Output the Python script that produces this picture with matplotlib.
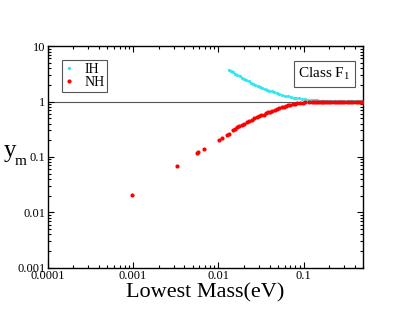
import numpy as np
import matplotlib
matplotlib.use('Agg')
import matplotlib.pyplot as plt
from matplotlib.ticker import FixedLocator, FixedFormatter, LogLocator, NullFormatter

plt.rcParams['font.family'] = ['Liberation Serif', 'DejaVu Serif']
plt.rcParams['mathtext.fontset'] = 'custom'
plt.rcParams['mathtext.rm'] = 'Liberation Serif'

# NH points (lowest mass in eV, y_m)
nh_mass = [0.00098, 0.00327, 0.00565, 0.0058, 0.00684, 0.0102, 0.0110, 0.0126, 0.0132,
           0.0148, 0.0157, 0.0165, 0.0175, 0.0189, 0.0200, 0.0217, 0.0230, 0.0248, 0.0265,
           0.0284, 0.030, 0.032, 0.034, 0.036, 0.038, 0.0407, 0.043, 0.046, 0.0487, 0.052,
           0.055, 0.0582, 0.062, 0.066, 0.0698, 0.075, 0.080, 0.0832, 0.090, 0.097, 0.105,
           0.115, 0.125, 0.133, 0.14, 0.148, 0.155, 0.163, 0.17, 0.18, 0.19, 0.20, 0.21,
           0.225, 0.24, 0.255, 0.27, 0.285, 0.30, 0.32, 0.34, 0.36, 0.38, 0.405, 0.43,
           0.455, 0.48, 0.50]
nh_y = [0.0203, 0.0697, 0.117, 0.121, 0.14, 0.206, 0.221, 0.25, 0.262,
        0.31, 0.325, 0.344, 0.36, 0.384, 0.40, 0.424, 0.445, 0.473, 0.50,
        0.522, 0.54, 0.56, 0.582, 0.61, 0.635, 0.659, 0.68, 0.71, 0.738, 0.765,
        0.785, 0.81, 0.83, 0.855, 0.88, 0.90, 0.92, 0.93, 0.945, 0.955, 0.965,
        0.972, 0.978, 0.981, 0.983, 0.985, 0.987, 0.988, 0.99, 0.991, 0.992, 0.993, 0.994,
        0.994, 0.995, 0.995, 0.996, 0.996, 0.997, 0.997, 0.998, 0.998, 0.998, 0.999, 0.999,
        0.999, 0.999, 0.999]

# IH points
ih_mass = [0.0135, 0.0142, 0.0150, 0.0158, 0.0167, 0.0178, 0.0189, 0.0200, 0.0213, 0.0226,
           0.0240, 0.0255, 0.0271, 0.029, 0.0308, 0.0325, 0.035, 0.037, 0.0388, 0.042, 0.045,
           0.0487, 0.052, 0.056, 0.061, 0.066, 0.071, 0.0764, 0.082, 0.088, 0.0955,
           0.105, 0.113, 0.122, 0.128, 0.135, 0.142, 0.15, 0.158, 0.165, 0.172, 0.18, 0.19,
           0.2, 0.21, 0.22, 0.235, 0.25, 0.265, 0.28, 0.30, 0.32, 0.34, 0.36, 0.38, 0.40,
           0.425, 0.45, 0.475, 0.50]
ih_y = [3.74, 3.55, 3.38, 3.17, 3.0, 2.85, 2.68, 2.55, 2.42, 2.30,
        2.19, 2.09, 2.0, 1.90, 1.82, 1.77, 1.68, 1.63, 1.58, 1.52, 1.46,
        1.42, 1.37, 1.32, 1.28, 1.24, 1.21, 1.18, 1.16, 1.14, 1.12,
        1.10, 1.08, 1.06, 1.055, 1.05, 1.045, 1.04, 1.038, 1.035, 1.032, 1.03, 1.028,
        1.025, 1.022, 1.02, 1.018, 1.015, 1.013, 1.012, 1.011, 1.01, 1.009, 1.008, 1.007, 1.006,
        1.006, 1.005, 1.005, 1.004]

xticks = [0.0001, 0.001, 0.01, 0.1]
xlabels = ['0.0001', '0.001', '0.01', '0.1']
yticks = [0.001, 0.01, 0.1, 1, 10]
ylabels = ['0.001', '0.01', '0.1', '1', '10']

fig = plt.figure(figsize=(4.09, 3.16), dpi=100)
ax = fig.add_axes([0.1166, 0.153, 0.7717, 0.701])

ax.axhline(1, color='#555555', lw=0.8, zorder=1)
ax.plot(ih_mass, ih_y, 'o', color='#33e6f0', ms=2.4, mew=0, label='IH', zorder=2)
ax.plot(nh_mass, nh_y, 'o', color='red', ms=3.0, mew=0, label='NH', zorder=3)

ax.set_xscale('log')
ax.set_yscale('log')
ax.set_xlim(0.0001, 0.5)
ax.set_ylim(0.001, 10)

ax.xaxis.set_major_locator(FixedLocator(xticks))
ax.xaxis.set_major_formatter(FixedFormatter(xlabels))
ax.yaxis.set_major_locator(FixedLocator(yticks))
ax.yaxis.set_major_formatter(FixedFormatter(ylabels))
ax.xaxis.set_minor_locator(LogLocator(base=10, subs=np.arange(2, 10)))
ax.yaxis.set_minor_locator(LogLocator(base=10, subs=np.arange(2, 10)))
ax.xaxis.set_minor_formatter(NullFormatter())
ax.yaxis.set_minor_formatter(NullFormatter())

ax.tick_params(which='both', direction='in', top=True, right=True, labelsize=9, width=0.8)
ax.tick_params(which='major', length=4.5, pad=1.5)
ax.tick_params(which='minor', length=2.5)
for s in ax.spines.values():
    s.set_linewidth(1.0)

ax.set_xlabel('Lowest Mass(eV)', fontsize=16, labelpad=1)
fig.text(0.010, 0.503, 'y', fontsize=18, ha='left', va='baseline')
fig.text(0.037, 0.478, 'm', fontsize=11, ha='left', va='baseline')

leg = ax.legend(loc='upper left', bbox_to_anchor=(0.045, 0.937), borderaxespad=0, fontsize=10,
                handlelength=0.6, handletextpad=0.8, borderpad=0.2, labelspacing=0.0,
                fancybox=False, edgecolor='#555555', framealpha=1, markerscale=1.0)
leg.get_frame().set_linewidth(0.8)

ax.text(0.96, 0.875, r'Class F$_1$', transform=ax.transAxes, fontsize=11, ha='right', va='center',
        bbox=dict(boxstyle='square,pad=0.3', fc='white', ec='#555555', lw=0.8))

fig.savefig('out.png', dpi=100)
